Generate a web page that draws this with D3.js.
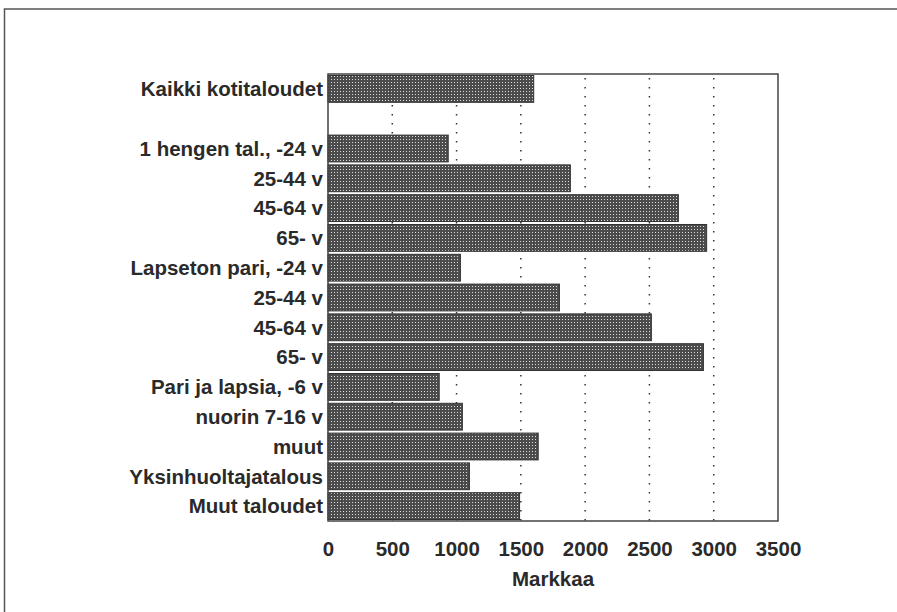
<!DOCTYPE html>
<html><head><meta charset="utf-8">
<script src="https://cdn.jsdelivr.net/npm/d3@7"></script>
<style>
html,body{margin:0;padding:0;background:#fff;overflow:hidden;}
svg{display:block;}
text{font-family:"Liberation Sans",Arial,sans-serif;}
</style></head>
<body><svg id="c" width="897" height="612"></svg>
<script>
const categories = ["Kaikki kotitaloudet", "", "1 hengen tal., -24 v", "25-44 v ", "45-64 v ", "65- v ",
  "Lapseton pari, -24 v", "25-44 v", "45-64 v", "65- v", "Pari ja lapsia, -6 v", "nuorin 7-16 v", "muut",
  "Yksinhuoltajatalous", "Muut taloudet"];
const values = [1600, null, 935, 1885, 2725, 2945, 1030, 1800, 2515, 2920, 865, 1045, 1635, 1100, 1490];
const ticks = [0, 500, 1000, 1500, 2000, 2500, 3000, 3500];
const gridTicks = [500, 1000, 1500, 2000, 2500, 3000];
const xTitle = "Markkaa";

const FS = 20.5;
const svg = d3.select("#c");
const defs = svg.append("defs");
const pat = defs.append("pattern").attr("id","dots").attr("patternUnits","userSpaceOnUse")
  .attr("width",3).attr("height",3);
pat.append("rect").attr("width",3).attr("height",3).attr("fill","#4c4c4c");
pat.append("rect").attr("x",1).attr("y",1).attr("width",1).attr("height",1).attr("fill","#dcdcdc");

// outer frame (only left and top edges visible)
svg.append("path").attr("d","M4.5,612V9H897")
  .attr("fill","none").attr("stroke","#555").attr("stroke-width",1.5);

const L=328, R=778, T=74, B=521;
const x = d3.scaleLinear().domain([0,3500]).range([L,R]);
const y = d3.scaleBand().domain(d3.range(categories.length)).range([T,B]).paddingInner(0.1).paddingOuter(0.05);

// grid
svg.append("g").selectAll("line").data(gridTicks).join("line")
  .attr("x1",d=>x(d)).attr("x2",d=>x(d)).attr("y1",T+4).attr("y2",B)
  .attr("stroke","#333").attr("stroke-width",1.5).attr("stroke-dasharray","1.5,7.5");

// bars
svg.append("g").selectAll("rect").data(values.map((v,i)=>({v,i})).filter(d=>d.v!=null)).join("rect")
  .attr("x",x(0)).attr("y",d=>y(d.i)).attr("width",d=>x(d.v)-x(0)).attr("height",y.bandwidth())
  .attr("fill","url(#dots)").attr("stroke","#333").attr("stroke-width",1);

// frame
svg.append("rect").attr("x",L).attr("y",T).attr("width",R-L).attr("height",B-T)
  .attr("fill","none").attr("stroke","#444").attr("stroke-width",1.5);

// category labels
svg.append("g").selectAll("text").data(categories).join("text")
  .attr("x",L-5).attr("y",(d,i)=>y(i)+y.bandwidth()/2).attr("dy","0.36em")
  .attr("text-anchor","end").attr("font-size",FS).attr("font-weight","bold").attr("fill","#2a2a2a")
  .text(d=>d.trim());

// x axis
const ax = svg.append("g").attr("transform",`translate(0,${B})`)
  .call(d3.axisBottom(x).tickValues(ticks).tickFormat(d3.format("d")).tickSize(0).tickPadding(0));
ax.select(".domain").remove();
ax.selectAll("text").attr("font-size",FS).attr("font-weight","bold").attr("fill","#2a2a2a")
  .attr("font-family","Liberation Sans, Arial, sans-serif").attr("y",35).attr("dy",0);

svg.append("text").attr("x",553).attr("y",586).attr("text-anchor","middle")
  .attr("font-size",FS).attr("font-weight","bold").attr("fill","#2a2a2a").text(xTitle);
</script></body></html>
